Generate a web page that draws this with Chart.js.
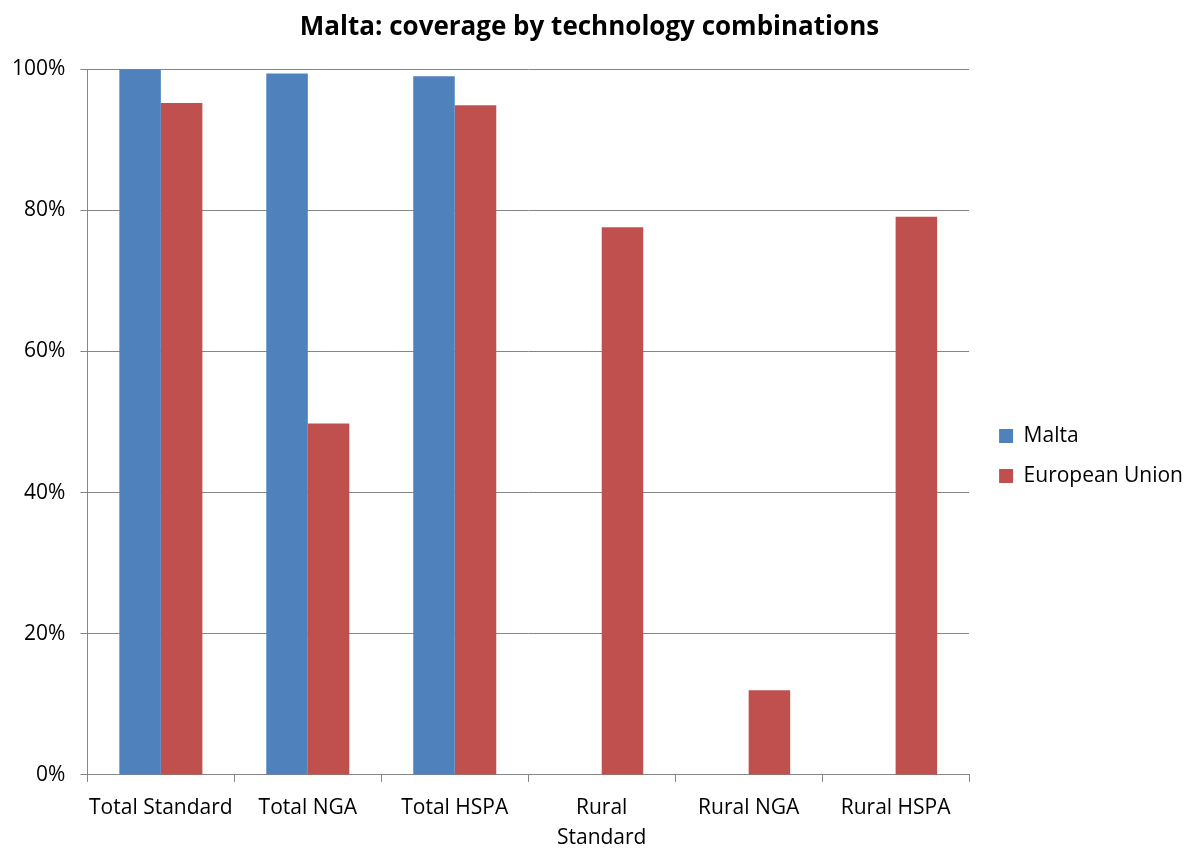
<!DOCTYPE html>
<html>
<head>
  <meta charset="UTF-8">
  <title>Malta: coverage by technology combinations</title>
  <script src="https://cdn.jsdelivr.net/npm/chart.js@4/dist/chart.umd.min.js"></script>
  <style>
    body { margin: 0; background: #fff; }
    #wrap { width: 1185px; height: 848px; }
  </style>
</head>
<body>
<div id="wrap"><canvas id="myChart" width="1185" height="848"></canvas></div>
<script>
  // categories and values
  var categories = ["Total Standard", "Total NGA", "Total HSPA", ["Rural", "Standard"], "Rural NGA", "Rural HSPA"];
  var maltaValues = [1.000, 0.994, 0.990, 0, 0, 0];
  var euValues = [0.952, 0.498, 0.949, 0.776, 0.120, 0.791];
  var yTicks = [0, 0.2, 0.4, 0.6, 0.8, 1.0];

  var font = "'Open Sans', sans-serif";

  // nudge the legend a bit right and down, like the original
  var legendShift = {
    id: "legendShift",
    afterLayout: function(chart) {
      var lg = chart.legend;
      if (!lg) return;
      lg.left += 11; lg.right += 11;
      lg.top += 24; lg.bottom += 24;
    }
  };

  new Chart(document.getElementById("myChart"), {
    type: "bar",
    data: {
      labels: categories,
      datasets: [{
        label: "Malta",
        data: maltaValues,
        backgroundColor: "#4f81bd",
        borderColor: "#4f81bd",
        borderWidth: 0
      }, {
        label: "European Union",
        data: euValues,
        backgroundColor: "#c0504d",
        borderColor: "#c0504d",
        borderWidth: 0
      }]
    },
    plugins: [legendShift],
    options: {
      responsive: false,
      animation: false,
      layout: { padding: { left: -3, right: 3, top: 0, bottom: -16 } },
      datasets: { bar: { barPercentage: 1, categoryPercentage: 0.565 } },
      plugins: {
        title: {
          display: true,
          text: "Malta: coverage by technology combinations",
          color: "#000",
          font: { family: font, size: 26, weight: "bold" },
          padding: { top: 12, bottom: 26 }
        },
        legend: {
          position: "right",
          labels: {
            color: "#000",
            font: { family: font, size: 21 },
            boxWidth: 14,
            boxHeight: 14,
            padding: 19
          }
        },
        tooltip: { enabled: false }
      },
      scales: {
        x: {
          grid: { offset: true, drawOnChartArea: false, color: "#868686", tickLength: 7 },
          border: { color: "#868686" },
          ticks: {
            color: "#000",
            font: { family: font, size: 21, lineHeight: 1.43 },
            autoSkip: false,
            maxRotation: 0,
            padding: 11
          }
        },
        y: {
          min: 0,
          max: 1,
          afterBuildTicks: function(axis) {
            axis.ticks = yTicks.map(function(v) { return { value: v }; });
          },
          grid: { color: "#868686", tickLength: 7 },
          border: { color: "#868686" },
          ticks: {
            color: "#000",
            font: { family: font, size: 21 },
            padding: 15,
            callback: function(v) { return Math.round(v * 100) + "%"; }
          }
        }
      }
    }
  });
</script>
</body>
</html>
